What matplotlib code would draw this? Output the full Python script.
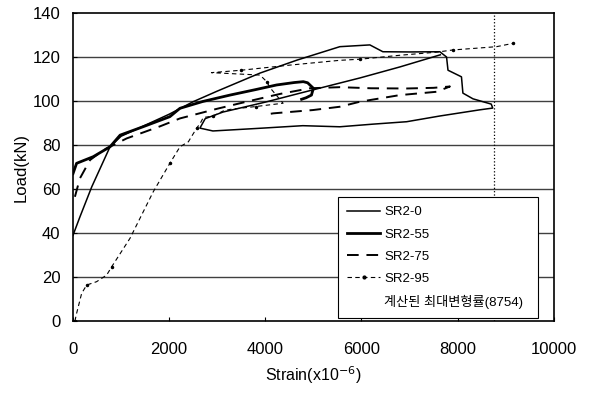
import numpy as np
import matplotlib.pyplot as plt
from matplotlib.lines import Line2D

plt.rcParams['font.family'] = ['Liberation Sans', 'Noto Sans CJK KR', 'DejaVu Sans']

# SR2-0 : thin solid, loads up to peak, post-peak drop, unload and reload
sr0_x = [0, 145, 390, 770, 1000, 1500, 2000, 2500, 3000, 3890, 4660, 5550, 6175, 6445, 7000, 7630,
         7770, 7800, 8080, 8110, 8320, 8700, 8730, 8460, 7630, 6940, 6240, 5550, 4780, 3950, 2910, 2640,
         2750, 3120, 4000, 4780, 5970, 6800, 7640]
sr0_y = [39, 47.4, 61, 79.2, 84, 89, 94, 99.7, 104.5, 112.7, 118.6, 124.7, 125.5, 122.4, 122.3, 122.4,
         120, 114, 111, 103.6, 101, 98.6, 96.8, 96, 93.2, 90.6, 89.5, 88.3, 88.8, 87.7, 86.4, 87.7,
         92, 95, 99.5, 103.9, 110.5, 115.5, 121]

# SR2-55 : thick solid with a small loop
sr55_x = [0, 75, 420, 770, 980, 1455, 2015, 2225, 2700, 3265, 3800, 4235, 4600, 4790, 4880, 5000,
          4960, 4850, 4755]
sr55_y = [67, 71.7, 74.7, 79.2, 84.5, 88.3, 92.9, 96.7, 99.8, 102.7, 105.2, 107.3, 108.4, 108.8, 108.3, 105.8,
          102.7, 101.5, 100.8]

# SR2-75 : dashed
sr75_x = [40, 145, 355, 630, 1115, 1810, 2225, 3000, 3610, 4300, 4930, 5550, 6200, 6940, 7500, 7840,
          7560, 6800, 5970, 5550, 4990, 4165, 4050]
sr75_y = [56.5, 64.9, 73.2, 77.7, 83, 88.5, 92.1, 96.5, 99.7, 103.2, 105.8, 106.3, 105.8, 105.7, 106, 106.6,
          104.2, 102.7, 99.7, 97.4, 95.9, 94.4, 94]

# SR2-95 : thin dashed with small markers
sr95_x = [40, 75, 180, 285, 490, 700, 805, 1185, 1670, 2015, 2225, 2400, 2570, 2650, 2710, 2915, 3125,
          3265, 3800, 4370, 4100, 4030, 3890, 2880, 3500, 4500, 5550, 5970, 6800, 7560, 7900, 8390, 8810, 9150]
sr95_y = [0, 3.5, 12.6, 16.4, 17.9, 20.9, 24.7, 37.6, 58.8, 71.7, 79.2, 81.5, 87.6, 90, 92.5, 93.2, 95.5,
          96.2, 97.5, 99, 106, 108.8, 111.8, 112.9, 114, 116.3, 118.5, 119, 120.8, 122.2, 123.2, 124, 124.7, 126.2]

max_strain = 8754
legend_labels = ['SR2-0', 'SR2-55', 'SR2-75', 'SR2-95', '계산된 최대변형률(8754)']

fig = plt.figure(figsize=(5.91, 3.94), dpi=100)
ax = fig.add_axes([0.1235, 0.185, 0.8135, 0.782])

for v in range(20, 140, 20):
    ax.axhline(v, color='0.25', lw=1.0, zorder=0)

ax.plot(sr0_x, sr0_y, color='black', lw=1.1)
ax.plot(sr55_x, sr55_y, color='black', lw=2.0)
ax.plot(sr75_x, sr75_y, color='black', lw=1.4, dashes=(6, 4))
ax.plot(sr95_x, sr95_y, color='black', lw=0.8, dashes=(4, 3), marker='.', markersize=3, markevery=3)
ax.plot([max_strain, max_strain], [0, 140], color='black', lw=0.9, ls=':')

ax.set_xlim(0, 10000)
ax.set_ylim(0, 140)
ax.set_xticks(range(0, 10001, 2000))
ax.set_yticks(range(0, 141, 20))
ax.tick_params(direction='in', length=3, labelsize=12, colors='black')
ax.tick_params(axis='x', pad=15)
ax.tick_params(axis='y', pad=9)
for s in ax.spines.values():
    s.set_linewidth(1.2)

ax.set_xlabel('Strain(x10$^{-6}$)', fontsize=11.5, labelpad=5)
ax.set_ylabel('Load(kN)', fontsize=12, labelpad=3)

handles = [Line2D([], [], color='black', lw=1.1),
           Line2D([], [], color='black', lw=2.0),
           Line2D([], [], color='black', lw=1.4, dashes=(6, 4)),
           Line2D([], [], color='black', lw=0.8, dashes=(4, 3), marker='.', markersize=4),
           Line2D([], [], color='none')]
leg = ax.legend(handles, legend_labels, loc='lower left', bbox_to_anchor=(0.551, 0.01, 0.416, 0.409),
                mode='expand', borderaxespad=0, fontsize=9.5, labelspacing=0.75, handlelength=2.5,
                handletextpad=0.3, fancybox=False, framealpha=1, edgecolor='black', borderpad=0.7)
leg.get_frame().set_linewidth(0.8)

fig.savefig('out.png', dpi=100)
